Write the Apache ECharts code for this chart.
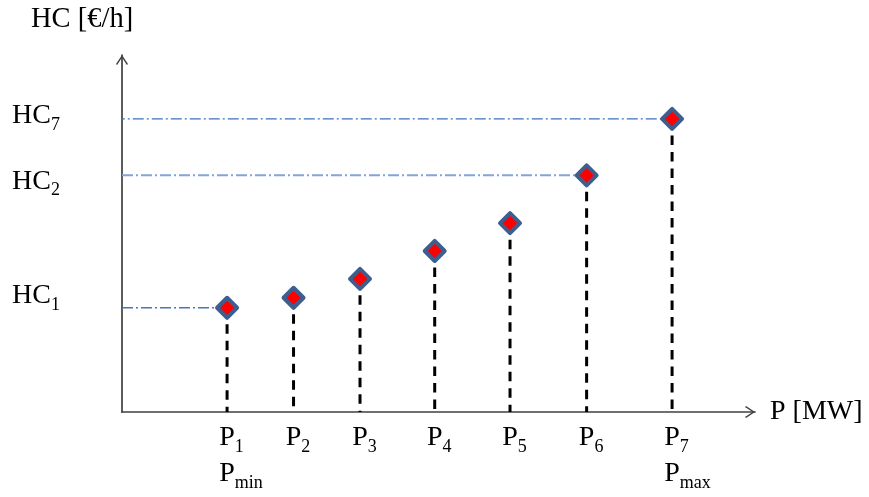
<!DOCTYPE html>
<html><head><meta charset="utf-8">
<script src="https://cdn.jsdelivr.net/npm/echarts@6/dist/echarts.min.js"></script>
<style>html,body{margin:0;padding:0;background:#fff}#c{width:869px;height:497px}</style>
</head><body><div id="c"></div>
<script>
// ---- data ----
const pSubs = ['1', '2', '3', '4', '5', '6', '7'];
const pSecond = ['min', '', '', '', '', '', 'max'];
const pValues = [16.6, 27.1, 37.6, 49.4, 61.3, 73.4, 86.9];
const hcValues = [29.2, 32.0, 37.3, 45.1, 52.9, 66.3, 82.1];
const hcTickSubs = ['1', '2', '7'];
const hcTickValues = [32.5, 64.5, 82.9];
const guidePoint = [0, 5, 6];
const guideStart = [0, 0, -1.3];

// ---- styles ----
const FONT = "'Liberation Serif', 'Times New Roman', serif";
const guideStyles = [
  {color: '#4a74be', width: 1.4},
  {color: '#84a3d8', width: 2},
  {color: '#3f6fc2', width: 1.4}
];
const arrowPath = 'path://M6,0L12,8.9L10.9,10L6,2.4L1.1,10L0,8.9Z';
const axisLineCommon = {
  lineStyle: {color: '#404040', width: 1.7},
  symbol: ['none', arrowPath],
  symbolSize: [12, 10],
  symbolOffset: [0, -5]
};
const richBase = {
  p: {fontFamily: FONT, fontSize: 28, lineHeight: 36, color: '#000'},
  s: {fontFamily: FONT, fontSize: 18, lineHeight: 18, verticalAlign: 'bottom', color: '#000'},
  h: {fontFamily: FONT, fontSize: 18, lineHeight: 18, verticalAlign: 'bottom', color: 'rgba(0,0,0,0)'}
};

const series = [];
pValues.forEach((x, i) => {
  series.push({
    type: 'line', silent: true, showSymbol: false, symbol: 'none', z: 2,
    data: [[x, hcValues[i]], [x, 0]],
    lineStyle: {color: '#000', width: 3, type: [9.5, 7]}
  });
});
guidePoint.forEach((pi, k) => {
  series.push({
    type: 'line', silent: true, showSymbol: false, symbol: 'none', z: 1, clip: false,
    data: [[guideStart[k], hcValues[pi]], [pValues[pi], hcValues[pi]]],
    lineStyle: {color: guideStyles[k].color, width: guideStyles[k].width, type: [11, 3, 2, 3]}
  });
});
series.push({
  type: 'scatter', z: 10, symbol: 'diamond', symbolSize: 20,
  data: pValues.map((x, i) => [x, hcValues[i]]),
  itemStyle: {color: '#ff0000', borderColor: '#3d5f8f', borderWidth: 4, borderJoin: 'round', opacity: 1}
});

const chart = echarts.init(document.getElementById('c'), null, {renderer: 'canvas'});
chart.setOption({
  animation: false,
  backgroundColor: '#fff',
  title: {
    text: 'HC [€/h]', left: 31, top: 6, padding: 0,
    textStyle: {fontFamily: FONT, fontSize: 28.5, fontWeight: 'normal', color: '#000', lineHeight: 28}
  },
  grid: {left: 122, top: 55, right: 114, bottom: 85, containLabel: false, outerBoundsMode: 'none'},
  xAxis: {
    type: 'value', min: 0, max: 100,
    splitLine: {show: false}, axisTick: {show: false},
    axisLine: axisLineCommon,
    name: 'P [MW]', nameLocation: 'end', nameGap: 15,
    nameTextStyle: {fontFamily: FONT, fontSize: 28, color: '#000', verticalAlign: 'middle', align: 'left'},
    axisLabel: {
      customValues: pValues, margin: 8, color: '#000', align: 'center',
      formatter: (v, idx) => {
        let i = pValues.indexOf(v);
        if (i < 0) i = idx;
        let s = '{h|' + pSubs[i] + '}{p|P}{s|' + pSubs[i] + '}';
        if (pSecond[i]) s += '\n{h|' + pSecond[i] + '}{p|P}{s|' + pSecond[i] + '}';
        return s;
      },
      rich: richBase
    }
  },
  yAxis: {
    type: 'value', min: 0, max: 100,
    splitLine: {show: false}, axisTick: {show: false},
    axisLine: axisLineCommon,
    axisLabel: {
      customValues: hcTickValues, margin: 62, color: '#000',
      formatter: (v, idx) => {
        let i = hcTickValues.indexOf(v);
        if (i < 0) i = idx;
        return '{p|HC}{s|' + hcTickSubs[i] + '}';
      },
      rich: richBase
    }
  },
  series: series
});
</script>
</body></html>
